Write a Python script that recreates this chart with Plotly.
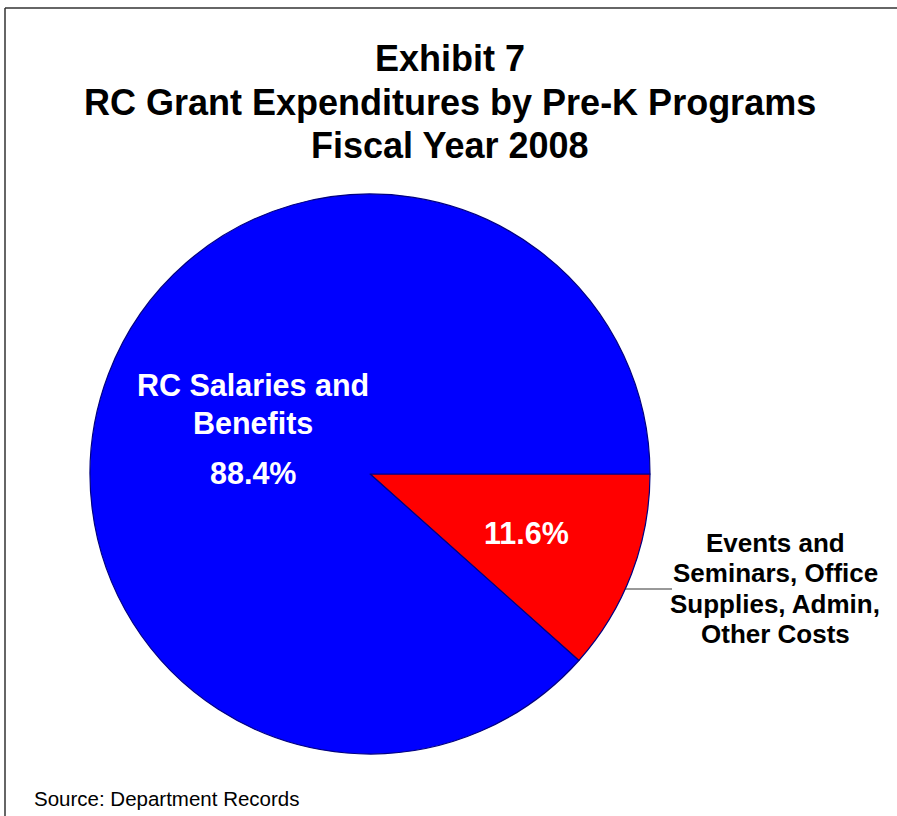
import plotly.graph_objects as go

W, H = 897, 816
categories = ["Events and Seminars, Office Supplies, Admin, Other Costs", "RC Salaries and Benefits"]
shares = [11.6, 88.4]
colors = ["#FF0000", "#0000FF"]
title_lines = ["Exhibit 7", "RC Grant Expenditures by Pre-K Programs", "Fiscal Year 2008"]
inner_label_lines = ["RC Salaries and", "Benefits"]
outer_label_lines = ["Events and", "Seminars, Office", "Supplies, Admin,", "Other Costs"]
source_text = "Source: Department Records"

cx, cy, r = 370, 474, 280
FONT = "Liberation Sans, Arial, sans-serif"

def px(x):
    return x / W

def py(y):
    return 1 - y / H

fig = go.Figure()
fig.add_trace(go.Pie(
    labels=categories,
    values=shares,
    marker=dict(colors=colors, line=dict(color="#000080", width=1.2)),
    sort=False,
    direction="clockwise",
    rotation=90,
    textinfo="none",
    hoverinfo="label+percent",
    showlegend=False,
    domain=dict(x=[px(cx - r), px(cx + r)], y=[py(cy + r), py(cy - r)]),
))

ann = []

def add(text, x, y, size, color="black", bold=True, xanchor="center"):
    t = f"<b>{text}</b>" if bold else text
    ann.append(dict(text=t, x=px(x), y=py(y), xref="paper", yref="paper",
                    showarrow=False, xanchor=xanchor, yanchor="middle",
                    font=dict(family=FONT, size=size, color=color)))

# Title
for i, t in enumerate(title_lines):
    add(t, 450, 59 + 43 * i, 36)
# Inside labels
for i, t in enumerate(inner_label_lines):
    add(t, 253, 385 + 38 * i, 30.5, "white")
add(f"{shares[1]:.1f}%", 253, 473, 30.5, "white")
add(f"{shares[0]:.1f}%", 526, 533, 30.5, "white")
# Outside label
for i, t in enumerate(outer_label_lines):
    add(t, 775, 543 + 30.3 * i, 26)
# Source
add(source_text, 32, 798, 20.5, bold=False, xanchor="left")

shapes = [
    dict(type="line", xref="paper", yref="paper", x0=px(5), y0=py(816), x1=px(5), y1=py(8),
         line=dict(color="#333333", width=1.5)),
    dict(type="line", xref="paper", yref="paper", x0=px(5), y0=py(8), x1=px(897), y1=py(8),
         line=dict(color="#333333", width=1.5)),
    dict(type="line", xref="paper", yref="paper", x0=px(625), y0=py(589), x1=px(672), y1=py(589),
         line=dict(color="#333333", width=1)),
]

fig.update_layout(
    width=W, height=H,
    margin=dict(l=0, r=0, t=0, b=0),
    paper_bgcolor="white", plot_bgcolor="white",
    annotations=ann, shapes=shapes,
)
fig.write_html("out.html")
